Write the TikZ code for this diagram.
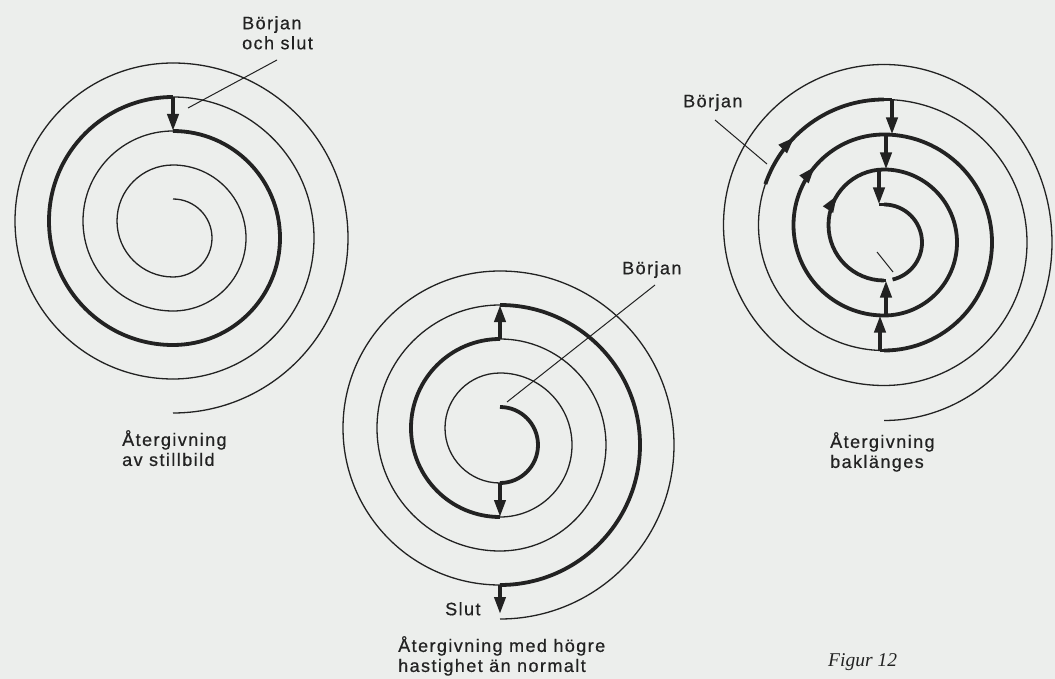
\documentclass[tikz,border=0pt]{standalone}
\usepackage{fontspec}
\setmainfont{Liberation Sans}[LetterSpace=8,FakeBold=0.6]
\newfontfamily\figfont{Liberation Serif}
\usetikzlibrary{arrows.meta,decorations.markings}
\definecolor{bg}{RGB}{236,238,236}
\definecolor{ink}{RGB}{34,34,34}
\begin{document}
\begin{tikzpicture}[x=1pt,y=-1pt,
  spthin/.style={draw=ink, line width=1.3pt},
  spthick/.style={draw=ink, line width=3.8pt},
  jump/.style={spthick, -{Triangle[length=17pt,width=11pt]}},
  leader/.style={draw=ink, line width=1pt},
  arcarrow/.style={postaction={decorate}, decoration={markings, mark=at position #1 with {\arrow{Triangle[length=17pt,width=11pt]}}}},
  lbl/.style={font=\fontsize{18}{20}\selectfont, text=ink, inner sep=0pt, align=left, anchor=north west}]
\path[use as bounding box, fill=bg] (0,0) rectangle (1055,679);

% ---------------- left spiral: x0=173, CR=238, CL=221
\draw[spthin] (173,199) arc[start angle=-90, end angle=90, radius=39];
\draw[spthin] (173,277) arc[start angle=90, end angle=270, radius=56];
\draw[spthin] (173,165) arc[start angle=-90, end angle=90, radius=73];
\draw[spthin] (173,311) arc[start angle=90, end angle=270, radius=90];
\draw[spthick] (173,131) arc[start angle=-90, end angle=90, radius=107];
\draw[spthick] (173,345) arc[start angle=90, end angle=270, radius=124];
\draw[spthin] (173,97) arc[start angle=-90, end angle=90, radius=141];
\draw[spthin] (173,379) arc[start angle=90, end angle=270, radius=158];
\draw[spthin] (173,63) arc[start angle=-90, end angle=90, radius=175];
\coordinate (Lt3) at (173,97);
\coordinate (Lt2) at (173,131);
\draw[jump] (Lt3) -- (Lt2);

\node[lbl] (Ltxt) at (242,16) {Början\\och slut};
\coordinate (La) at (277,60);
\coordinate (Lb) at (188,108);
\draw[leader] (La) -- (Lb);
\node[lbl] (Lcap) at (122,430) {Återgivning\\av stillbild};

% ---------------- middle spiral: x0=500, CR=445, CL=428
\draw[spthick] (500,407) arc[start angle=-90, end angle=90, radius=38];
\draw[spthin] (500,483) arc[start angle=90, end angle=270, radius=55];
\draw[spthin] (500,373) arc[start angle=-90, end angle=90, radius=72];
\draw[spthick] (500,517) arc[start angle=90, end angle=270, radius=89];
\draw[spthin] (500,339) arc[start angle=-90, end angle=90, radius=106];
\draw[spthin] (500,551) arc[start angle=90, end angle=270, radius=123];
\draw[spthick] (500,305) arc[start angle=-90, end angle=90, radius=140];
\draw[spthin] (500,585) arc[start angle=90, end angle=270, radius=157];
\draw[spthin] (500,271) arc[start angle=-90, end angle=90, radius=174];
\coordinate (Mb0) at (500,483);
\coordinate (Mb1) at (500,517);
\coordinate (Mt2) at (500,339);
\coordinate (Mt3) at (500,305);
\coordinate (Mb3) at (500,585);
\coordinate (Mend) at (500,614);
\draw[jump] (Mb0) -- (Mb1);
\draw[jump] (Mt2) -- (Mt3);
\draw[jump] (Mb3) -- (Mend);

\node[lbl] (Mtxt) at (622,261) {Början};
\coordinate (Ma) at (655,285);
\coordinate (Mb) at (507,402);
\draw[leader] (Ma) -- (Mb);
\node[lbl] (Mslut) at (445,602) {Slut};
\node[lbl] (Mcap) at (398,636) {Återgivning med högre\\hastighet än normalt};

% ---------------- right spiral: x0=884, CR=242.5, CL=225
\draw[spthick] (884,204.5) arc[start angle=-90, end angle=77, radius=38];
\draw[spthick, arcarrow=0.68] (884,280.5) arc[start angle=90, end angle=270, radius=55.5];
\draw[spthick] (884,169.5) arc[start angle=-90, end angle=90, radius=73];
\draw[spthick, arcarrow=0.724] (884,315.5) arc[start angle=90, end angle=270, radius=90.5];
\draw[spthick] (884,134.5) arc[start angle=-90, end angle=90, radius=108];
\draw[spthin] (884,350.5) arc[start angle=90, end angle=199, radius=125.5];
\draw[spthick, arcarrow=0.36] ({884+125.5*cos(199)},{225+125.5*sin(199)}) arc[start angle=199, end angle=270, radius=125.5];
\draw[spthin] (884,99.5) arc[start angle=-90, end angle=90, radius=143];
\draw[spthin] (884,385.5) arc[start angle=90, end angle=270, radius=160.5];
\draw[spthin] (884,64.5) arc[start angle=-90, end angle=90, x radius=168, y radius=178];

\coordinate (Rt3) at (884,99.5);
\coordinate (Rt3x) at (892,99.5);
\coordinate (Rt2x) at (892,134.5);
\coordinate (Rt2) at (884,134.5);
\coordinate (Rt2y) at (886,134.5);
\coordinate (Rt1y) at (886,169.5);
\coordinate (Rt1) at (884,169.5);
\coordinate (Rt1z) at (879,169.5);
\coordinate (Rt0z) at (879,204.5);
\coordinate (Rt0) at (884,204.5);
\coordinate (Rb2) at (884,350.5);
\coordinate (Rb2x) at (880,350.5);
\coordinate (Rb1x) at (880,315.5);
\coordinate (Rb1) at (884,315.5);
\coordinate (Rb1y) at (886,315.5);
\coordinate (Rb0y) at (886,280.5);
\coordinate (Rb0) at (884,280.5);
\draw[spthick] (Rt3) -- (Rt3x);
\draw[jump] (Rt3x) -- (Rt2x);
\draw[spthick] (Rt2x) -- (Rt2);
\draw[jump] (Rt2y) -- (Rt1y);
\draw[spthick] (Rt1y) -- (Rt1z);
\draw[jump] (Rt1z) -- (Rt0z);
\draw[spthick] (Rt0z) -- (Rt0);
\draw[spthick] (Rb2) -- (Rb2x);
\draw[jump] (Rb2x) -- (Rb1x);
\draw[spthick] (Rb1x) -- (Rb1y);
\draw[jump] (Rb1y) -- (Rb0y);
\draw[spthick] (Rb0y) -- (Rb0);
\coordinate (Rsa) at (877,252);
\coordinate (Rsb) at (893,272);
\draw[leader] (Rsa) -- (Rsb);

\node[lbl] (Rtxt) at (683,94) {Början};
\coordinate (Ra) at (715,120);
\coordinate (Rb) at (767,164);
\draw[leader] (Ra) -- (Rb);
\node[lbl] (Rcap) at (830,432) {Återgivning\\baklänges};

\node[font=\figfont\itshape\fontsize{19.5}{22}\selectfont, text=ink, inner sep=0pt, anchor=north west] (fig) at (828,653) {Figur 12};
\end{tikzpicture}
\end{document}
